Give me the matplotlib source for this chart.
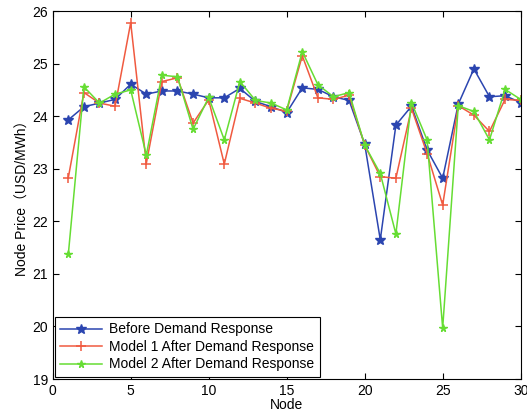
import matplotlib.pyplot as plt

plt.rcParams['font.family'] = ['Liberation Sans', 'Noto Sans CJK SC', 'DejaVu Sans']

nodes = list(range(1, 31))

before = [23.93, 24.18, 24.25, 24.32, 24.61, 24.42, 24.48, 24.48, 24.42, 24.35,
          24.35, 24.53, 24.28, 24.18, 24.07, 24.54, 24.51, 24.37, 24.30, 23.47,
          21.65, 23.83, 24.19, 23.36, 22.82, 24.23, 24.90, 24.37, 24.39, 24.26]

model1 = [22.83, 24.45, 24.25, 24.19, 25.78, 23.10, 24.66, 24.73, 23.87, 24.31,
          23.09, 24.34, 24.25, 24.15, 24.10, 25.15, 24.35, 24.32, 24.40, 23.45,
          22.85, 22.82, 24.15, 23.29, 22.31, 24.20, 24.02, 23.71, 24.32, 24.30]

model2 = [21.37, 24.56, 24.25, 24.42, 24.50, 23.26, 24.78, 24.75, 23.75, 24.36,
          23.55, 24.66, 24.30, 24.25, 24.12, 25.23, 24.60, 24.37, 24.45, 23.45,
          22.91, 21.76, 24.26, 23.55, 19.97, 24.20, 24.09, 23.55, 24.51, 24.32]

labels = ['Before Demand Response', 'Model 1 After Demand Response',
          'Model 2 After Demand Response']

fig = plt.figure(figsize=(5.27, 4.20), dpi=100)
ax = fig.add_axes([0.1, 0.0976, 0.888, 0.876])

ax.plot(nodes, before, color='#2b45b0', marker='*', markersize=7, lw=1.1, label=labels[0])
ax.plot(nodes, model1, color='#f05a40', marker='+', markersize=7, mew=1.1, lw=1.1, label=labels[1])
ax.plot(nodes, model2, color='#66dd33', marker='*', markersize=5.5, lw=1.1, label=labels[2])

ax.set_xlim(0, 30)
ax.set_ylim(19, 26)
ax.set_xticks(range(0, 31, 5))
ax.set_yticks(range(19, 27))
ax.tick_params(direction='in', top=True, right=True, labelsize=10, length=4)
ax.set_xlabel('Node', fontsize=10, labelpad=0)
ax.set_ylabel('Node Price（USD/MWh）', fontsize=10, labelpad=2)

leg = ax.legend(loc='lower left', fontsize=10, handlelength=3.0, fancybox=False,
                framealpha=1, borderaxespad=0.15, labelspacing=0.25,
                borderpad=0.4, handletextpad=0.5)
leg.get_frame().set_edgecolor('black')
leg.get_frame().set_linewidth(0.8)

fig.savefig('out.png', dpi=100)
